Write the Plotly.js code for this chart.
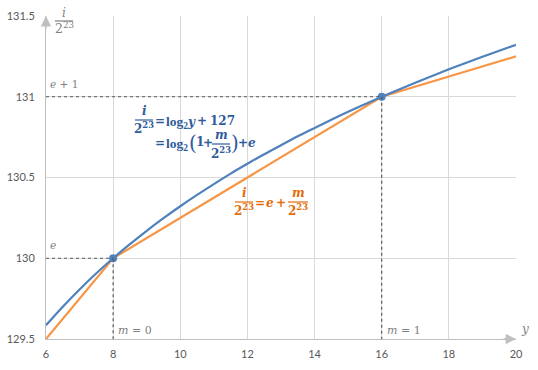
<!DOCTYPE html>
<html>
<head>
<meta charset="utf-8">
<script src="https://cdn.plot.ly/plotly-3.0.1.min.js"></script>
<style>html,body{margin:0;padding:0;background:#fff;}#chart{width:538px;height:370px;}</style>
</head>
<body>
<div id="chart"></div>
<script>
// Data
const yValues = [6, 6.5, 7, 7.5, 8, 8.5, 9, 9.5, 10, 10.5, 11, 11.5, 12, 12.5, 13, 13.5, 14, 14.5, 15, 15.5, 16, 16.5, 17, 17.5, 18, 18.5, 19, 19.5, 20];
const logCurve = [129.585, 129.700, 129.807, 129.907, 130.000, 130.087, 130.170, 130.248, 130.322, 130.392, 130.459, 130.524, 130.585, 130.644, 130.700, 130.755, 130.807, 130.858, 130.907, 130.954, 131.000, 131.044, 131.087, 131.129, 131.170, 131.209, 131.248, 131.285, 131.322];
const linX = [6, 8, 16, 20];
const linY = [129.5, 130, 131, 131.25];
const pointX = [8, 16];
const pointY = [130, 131];
const xTicks = [6, 8, 10, 12, 14, 16, 18, 20];
const yTicks = [129.5, 130, 130.5, 131, 131.5];

const X0 = 6, X1 = 20, Y0 = 129.5, Y1 = 131.5;
const L = 46, R = 516, T = 16, B = 339;
function px2(p) { return (p - L) / (R - L); }
function py2(p) { return (B - p) / (B - T); }

const BLUE = '#4f81bd', ORANGE = '#f79646';
const BLUE_T = '#2f5b9b', ORANGE_T = '#e46c0a', GRAY_T = '#7f7f7f';
const SERIF = '"DejaVu Serif", serif';
const SERIF2 = '"Liberation Serif", serif';

const traces = [
  {x: linX, y: linY, type: 'scatter', mode: 'lines', line: {color: ORANGE, width: 2.2}, hoverinfo: 'skip'},
  {x: yValues, y: logCurve, type: 'scatter', mode: 'lines', line: {color: BLUE, width: 2.2, shape: 'spline'}, hoverinfo: 'skip'},
  {x: pointX, y: pointY, type: 'scatter', mode: 'markers', marker: {color: BLUE, size: 8}, hoverinfo: 'skip'}
];

function txt(text, px, py, color, size, anchor, fam) {
  return {text: text, x: px2(px), y: py2(py), xref: 'paper', yref: 'paper', showarrow: false,
    xanchor: anchor || 'center', yanchor: 'middle', borderpad: 0,
    font: {family: fam || SERIF, size: size, color: color}};
}
function bar(x0, x1, py, color) {
  return {type: 'line', xref: 'paper', yref: 'paper', x0: px2(x0), x1: px2(x1), y0: py2(py), y1: py2(py),
    line: {color: color, width: 1.2}};
}
function dotted(xa, ya, xb, yb) {
  return {type: 'line', xref: 'x', yref: 'y', x0: xa, y0: ya, x1: xb, y1: yb,
    line: {color: '#595959', width: 1.2, dash: 'dot'}};
}

const annotations = [
  // axis title (top)
  txt('<i>i</i>', 64, 13, GRAY_T, 12),
  txt('2<sup>23</sup>', 64, 28, GRAY_T, 12.5),
  // y label
  txt('<i>y</i>', 525, 329, GRAY_T, 12),
  // guide labels
  txt('<i>e</i> + 1', 49, 84, GRAY_T, 10.5, 'left'),
  txt('<i>e</i>', 49, 245, GRAY_T, 10.5, 'left'),
  txt('<i>m</i> = 0', 117, 330, GRAY_T, 11, 'left'),
  txt('<i>m</i> = 1', 386, 330, GRAY_T, 11, 'left'),
  // blue equation, line 1
  txt('<b><i>i</i></b>', 144, 111, BLUE_T, 12),
  txt('<b>2<sup>23</sup></b>', 144, 128, BLUE_T, 12),
  txt('<b>=</b>', 159.5, 121, BLUE_T, 12),
  txt('<b>log<sub>2</sub></b>', 165, 122, BLUE_T, 13.5, 'left', SERIF2),
  txt('<b><i>y</i></b>', 191.5, 122, BLUE_T, 12),
  txt('<b>+</b>', 201.5, 121, BLUE_T, 12),
  txt('<b>127</b>', 222, 121, BLUE_T, 12),
  // blue equation, line 2
  txt('<b>=</b>', 160, 143, BLUE_T, 12),
  txt('<b>log<sub>2</sub></b>', 165, 144, BLUE_T, 13.5, 'left', SERIF2),
  txt('(', 192.5, 143, BLUE_T, 20),
  txt('<b>1</b>', 200, 142, BLUE_T, 12),
  txt('<b>+</b>', 208, 143, BLUE_T, 12),
  txt('<b><i>m</i></b>', 221, 135, BLUE_T, 12),
  txt('<b>2<sup>23</sup></b>', 221, 153, BLUE_T, 12),
  txt(')', 235, 143, BLUE_T, 20),
  txt('<b>+</b>', 242.5, 143, BLUE_T, 12),
  txt('<b><i>e</i></b>', 252, 143, BLUE_T, 12),
  // orange equation
  txt('<b><i>i</i></b>', 244, 193, ORANGE_T, 12),
  txt('<b>2<sup>23</sup></b>', 244, 210, ORANGE_T, 12),
  txt('<b>=</b>', 259.5, 203, ORANGE_T, 12),
  txt('<b><i>e</i></b>', 270, 203, ORANGE_T, 12),
  txt('<b>+</b>', 280.5, 203, ORANGE_T, 12),
  txt('<b><i>m</i></b>', 298, 193, ORANGE_T, 12),
  txt('<b>2<sup>23</sup></b>', 298, 210, ORANGE_T, 12),
  // axis arrows
  {x: X0, y: Y1, ax: 0, ay: 14, xref: 'x', yref: 'y', text: '',
    showarrow: true, arrowhead: 2, arrowsize: 1.6, arrowwidth: 1.3, arrowcolor: '#bfbfbf'},
  {x: X1, y: Y0, ax: -14, ay: 0, xref: 'x', yref: 'y', text: '',
    showarrow: true, arrowhead: 2, arrowsize: 1.6, arrowwidth: 1.3, arrowcolor: '#bfbfbf'}
];

const shapes = [
  dotted(X0, 131, 16, 131), dotted(16, 131, 16, Y0),
  dotted(X0, 130, 8, 130), dotted(8, 130, 8, Y0),
  bar(55, 73, 21, GRAY_T),
  bar(135, 153, 120, BLUE_T), bar(212, 230, 144, BLUE_T),
  bar(235, 253, 202, ORANGE_T), bar(288, 308, 202, ORANGE_T)
];

const layout = {
  width: 538, height: 370,
  margin: {l: L, r: 538 - R, t: T, b: 370 - B, pad: 0},
  paper_bgcolor: '#fff', plot_bgcolor: '#fff',
  showlegend: false,
  font: {family: 'Lato, "Open Sans", sans-serif', size: 11, color: '#595959'},
  xaxis: {range: [X0, X1], tickvals: xTicks, ticktext: xTicks.map(String), showgrid: true, gridcolor: '#d9d9d9', gridwidth: 1,
    zeroline: false, showline: true, linecolor: '#bfbfbf', linewidth: 1, ticks: 'outside', ticklen: 5, tickcolor: 'rgba(0,0,0,0)', fixedrange: true,
    tickfont: {size: 11, color: '#595959'}},
  yaxis: {range: [Y0, Y1], tickvals: yTicks, ticktext: yTicks.map(String), showgrid: true, gridcolor: '#d9d9d9', gridwidth: 1,
    zeroline: false, showline: true, linecolor: '#bfbfbf', linewidth: 1, ticks: 'outside', ticklen: 8, tickcolor: 'rgba(0,0,0,0)', fixedrange: true,
    tickfont: {size: 11, color: '#595959'}},
  shapes: shapes,
  annotations: annotations
};

Plotly.newPlot('chart', traces, layout, {displayModeBar: false, staticPlot: true});
</script>
</body>
</html>
